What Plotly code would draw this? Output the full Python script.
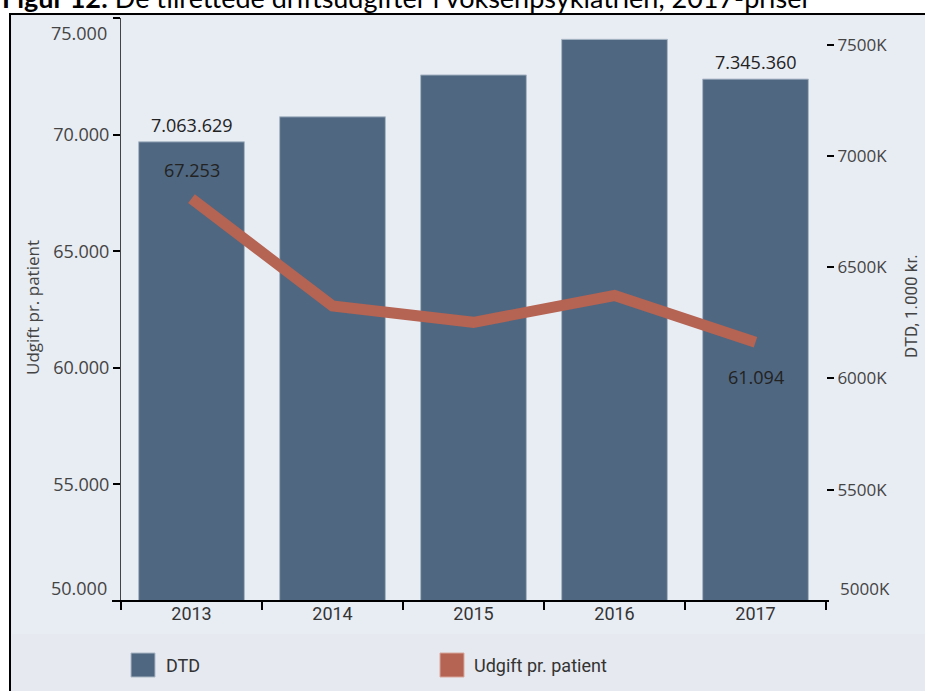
import plotly.graph_objects as go

# data (DTD in 1.000 kr., udgift in kr.)
years = ["2013", "2014", "2015", "2016", "2017"]
dtd = [7063629, 7176000, 7364000, 7524000, 7345360]
udgift = [67253, 62650, 61950, 63100, 61094]

left_ticks = [50000, 55000, 60000, 65000, 70000, 75000]
right_ticks = [5000000, 5500000, 6000000, 6500000, 7000000, 7500000]
right_text = ["5000K", "5500K", "6000K", "6500K", "7000K", "7500K"]

BAR = "#4f6780"
LINE = "#b56352"
BG = "#e8ecf3"
NUM_FONT = "Open Sans"
NARROW = "Roboto"


def dk(v):
    return f"{v:,}".replace(",", ".")


# pixel helpers (plot area: x 121..826, y 18..601)
L, R, T, B = 121, 826, 18, 601


def px(x):
    return (x - L) / (R - L)


def py(y):
    return (B - y) / (B - T)


fig = go.Figure()
# bars on the primary axis (right side), line on the overlaying one so it is drawn on top
fig.add_trace(go.Bar(x=years, y=dtd, yaxis="y", marker_color=BAR,
                     marker_line_color="#aab8c6", marker_line_width=1,
                     name="DTD", showlegend=False))
fig.add_trace(go.Scatter(x=years, y=udgift, yaxis="y2", mode="lines",
                         line=dict(color=LINE, width=11),
                         name="Udgift pr. patient", showlegend=False))

shapes = [
    # outer frame
    dict(type="rect", xref="paper", yref="paper", x0=px(10), x1=px(940),
         y0=py(14), y1=py(720), line=dict(color="black", width=2),
         fillcolor="#e6e9ef", layer="below"),
    dict(type="rect", xref="paper", yref="paper", x0=px(12), x1=px(940),
         y0=py(16), y1=py(634), line=dict(width=0),
         fillcolor=BG, layer="below"),
    # x axis line, a bit wider than the plot area
    dict(type="line", xref="paper", yref="paper", x0=px(112), x1=px(829),
         y0=0, y1=0, line=dict(color="black", width=2)),
    # legend squares
    dict(type="rect", xref="paper", yref="paper", x0=px(131), x1=px(155),
         y0=py(653), y1=py(677), fillcolor=BAR, line=dict(color="#aab8c6", width=1)),
    dict(type="rect", xref="paper", yref="paper", x0=px(440), x1=px(464),
         y0=py(653), y1=py(677), fillcolor=LINE, line=dict(color="#d8a89c", width=1)),
]

last = len(years) - 1
annotations = [
    # title is partly cut by the top edge, as in the source image
    dict(xref="paper", yref="paper", x=px(0), y=py(16), xanchor="left", yanchor="bottom",
         text="<b>Figur 12:</b> De tilrettede driftsudgifter i voksenpsykiatrien, 2017-priser",
         showarrow=False, font=dict(family="Lato", size=27, color="black")),
    # end labels of the left axis sit inside the range
    dict(xref="paper", yref="paper", x=px(109), y=py(33), xanchor="right", yanchor="middle",
         text=dk(left_ticks[-1]), showarrow=False, font=dict(family=NUM_FONT, size=18, color="#444")),
    dict(xref="paper", yref="paper", x=px(109), y=py(588), xanchor="right", yanchor="middle",
         text=dk(left_ticks[0]), showarrow=False, font=dict(family=NUM_FONT, size=18, color="#444")),
    dict(xref="paper", yref="paper", x=px(838), y=py(588), xanchor="left", yanchor="middle",
         text=right_text[0], showarrow=False, font=dict(family=NUM_FONT, size=17, color="#444")),
    # axis titles
    dict(xref="paper", yref="paper", x=px(32), y=py(308), xanchor="center", yanchor="middle",
         textangle=-90, text="Udgift pr. patient", showarrow=False,
         font=dict(family=NUM_FONT, size=17, color="#444")),
    dict(xref="paper", yref="paper", x=px(911), y=py(306), xanchor="center", yanchor="middle",
         textangle=-90, text="DTD, 1.000 kr.", showarrow=False,
         font=dict(family=NARROW, size=17, color="#444")),
    # legend text
    dict(xref="paper", yref="paper", x=px(164), y=py(665), xanchor="left", yanchor="middle",
         text="DTD", showarrow=False, font=dict(family=NARROW, size=18, color="#333")),
    dict(xref="paper", yref="paper", x=px(472), y=py(665), xanchor="left", yanchor="middle",
         text="Udgift pr. patient", showarrow=False, font=dict(family=NARROW, size=18, color="#333")),
    # value labels
    dict(x=0, y=dtd[0], yref="y", yshift=17, text=dk(dtd[0]), showarrow=False,
         font=dict(family=NUM_FONT, size=18, color="#222")),
    dict(x=last, y=dtd[last], yref="y", yshift=17, text=dk(dtd[last]), showarrow=False,
         font=dict(family=NUM_FONT, size=18, color="#222")),
    dict(x=0, y=udgift[0], yref="y2", yshift=29, text=dk(udgift[0]), showarrow=False,
         font=dict(family=NUM_FONT, size=18, color="#222")),
    dict(x=last, y=udgift[last], yref="y2", yshift=-35, text=dk(udgift[last]), showarrow=False,
         font=dict(family=NUM_FONT, size=18, color="#222")),
]

fig.update_layout(
    width=925, height=691,
    margin=dict(l=L, r=925 - R, t=T, b=691 - B),
    paper_bgcolor="white", plot_bgcolor="rgba(0,0,0,0)",
    bargap=0.25,
    shapes=shapes, annotations=annotations,
    xaxis=dict(type="category", range=[-0.5, last + 0.5], showgrid=False, zeroline=False,
               showline=False, tickson="boundaries", ticks="outside", ticklen=8, tickwidth=2,
               tickcolor="black", tickfont=dict(family=NARROW, size=18, color="#333")),
    # DTD axis, right side
    yaxis=dict(range=[5000000, 7620000], side="right",
               tickvals=right_ticks[1:], ticktext=right_text[1:],
               showgrid=False, zeroline=False, showline=False,
               ticks="outside", ticklen=7, tickwidth=2, tickcolor="black",
               tickfont=dict(family=NUM_FONT, size=17, color="#444")),
    # udgift axis, left side
    yaxis2=dict(range=[50000, 75000], overlaying="y", side="left", tickvals=left_ticks,
                ticktext=[""] + [dk(v) for v in left_ticks[1:-1]] + [""],
                showgrid=False, zeroline=False, showline=True, linecolor="#444", linewidth=1,
                ticks="outside", ticklen=7, tickwidth=1.5, tickcolor="black",
                tickfont=dict(family=NUM_FONT, size=18, color="#444")),
)

fig.write_html("out.html", config={"displayModeBar": False},
               post_script="document.body.style.margin='0';")
